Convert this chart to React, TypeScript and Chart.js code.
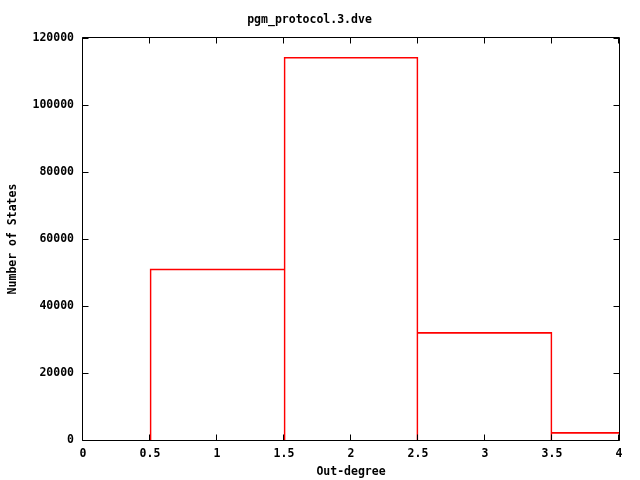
import { useEffect, useRef } from 'react';
import { Chart, registerables } from 'chart.js';

Chart.register(...registerables);

const chartTitle = 'pgm_protocol.3.dve';
const xAxisTitle = 'Out-degree';
const yAxisTitle = 'Number of States';
const binCenters = [1, 2, 3, 4];
const stateCounts = [51100, 114250, 32150, 2300];
const xMin = 0;
const xMax = 4;
const xStep = 0.5;
const yMin = 0;
const yMax = 120000;
const yStep = 20000;

const FONT = { family: '"DejaVu Sans Mono", monospace', size: 11.5, weight: 'bold' as const, lineHeight: 1.2 };

const framePlugin = {
  id: 'gnuplotFrame',
  afterDatasetsDraw(chart: any) {
    const { ctx, chartArea: a, scales } = chart;
    const L = 6;
    ctx.save();
    ctx.strokeStyle = '#000';
    ctx.lineWidth = 1;
    ctx.beginPath();
    ctx.rect(a.left - 0.5, a.top - 0.5, a.right - a.left + 1, a.bottom - a.top + 1);
    const xs = scales.x;
    xs.ticks.forEach((t: any) => {
      const px = Math.round(xs.getPixelForValue(t.value)) - 0.5;
      ctx.moveTo(px, a.bottom + 0.5);
      ctx.lineTo(px, a.bottom + 0.5 - L);
      ctx.moveTo(px, a.top - 0.5);
      ctx.lineTo(px, a.top - 0.5 + L);
    });
    const ys = scales.y;
    ys.ticks.forEach((t: any) => {
      const py = Math.round(ys.getPixelForValue(t.value)) + 0.5;
      ctx.moveTo(a.left - 0.5, py);
      ctx.lineTo(a.left - 0.5 + L, py);
      ctx.moveTo(a.right + 0.5, py);
      ctx.lineTo(a.right + 0.5 - L, py);
    });
    ctx.stroke();
    ctx.restore();
  },
};

export default function App() {
  const ref = useRef<HTMLCanvasElement>(null);
  useEffect(() => {
    const chart = new Chart(ref.current!, {
      type: 'bar',
      data: {
        datasets: [
          {
            data: binCenters.map((x, i) => ({ x, y: stateCounts[i] })),
            xAxisID: 'xb',
            yAxisID: 'y',
            backgroundColor: 'rgba(0,0,0,0)',
            borderColor: '#ff0000',
            borderWidth: (c: any) => {
              const i = c.dataIndex;
              const v = stateCounts[i];
              const prev = i > 0 ? stateCounts[i - 1] : -Infinity;
              const next = i < stateCounts.length - 1 ? stateCounts[i + 1] : -Infinity;
              return { left: v >= prev ? 1 : 0, top: 1, right: v > next ? 1 : 0, bottom: 0 };
            },
            borderSkipped: false,
            barPercentage: 1,
            categoryPercentage: 1,
          } as any,
        ],
      },
      options: {
        responsive: false,
        animation: false,
        devicePixelRatio: 1,
        layout: { padding: { left: 0, right: 21, top: 0, bottom: 0 } },
        plugins: {
          legend: { display: false },
          tooltip: { enabled: false },
          title: {
            display: true,
            text: chartTitle,
            color: '#000',
            font: FONT,
            padding: { top: 13, bottom: 11.2 },
          },
        },
        scales: {
          x: {
            type: 'linear',
            position: 'bottom',
            offset: false,
            min: xMin,
            max: xMax,
            grid: { display: false, drawTicks: false, offset: false },
            border: { display: false },
            ticks: {
              stepSize: xStep,
              color: '#000',
              font: FONT,
              padding: 7,
              maxRotation: 0,
              autoSkip: false,
              callback: (v: any) => String(v),
            },
            title: { display: true, text: xAxisTitle, color: '#000', font: FONT, padding: { top: 0, bottom: 1 } },
            afterFit: (s: any) => {
              s.height = 40;
            },
          },
          xb: {
            type: 'linear',
            display: false,
            offset: false,
            grid: { offset: false },
            min: xMin,
            max: xMax,
            ticks: { stepSize: 1 },
          },
          y: {
            type: 'linear',
            position: 'left',
            min: yMin,
            max: yMax,
            grid: { display: false, drawTicks: false },
            border: { display: false },
            ticks: {
              stepSize: yStep,
              color: '#000',
              font: FONT,
              padding: 9,
              callback: (v: any) => String(v),
            },
            title: { display: true, text: yAxisTitle, color: '#000', font: FONT, padding: { top: 6, bottom: 0 } },
            afterFit: (s: any) => {
              s.width = 83;
            },
          },
        },
      } as any,
      plugins: [framePlugin],
    });
    return () => chart.destroy();
  }, []);
  return (
    <div style={{ position: 'fixed', left: 0, top: 0, width: 640, height: 480, background: '#fff' }}>
      <canvas ref={ref} width={640} height={480} style={{ display: 'block' }} />
    </div>
  );
}
